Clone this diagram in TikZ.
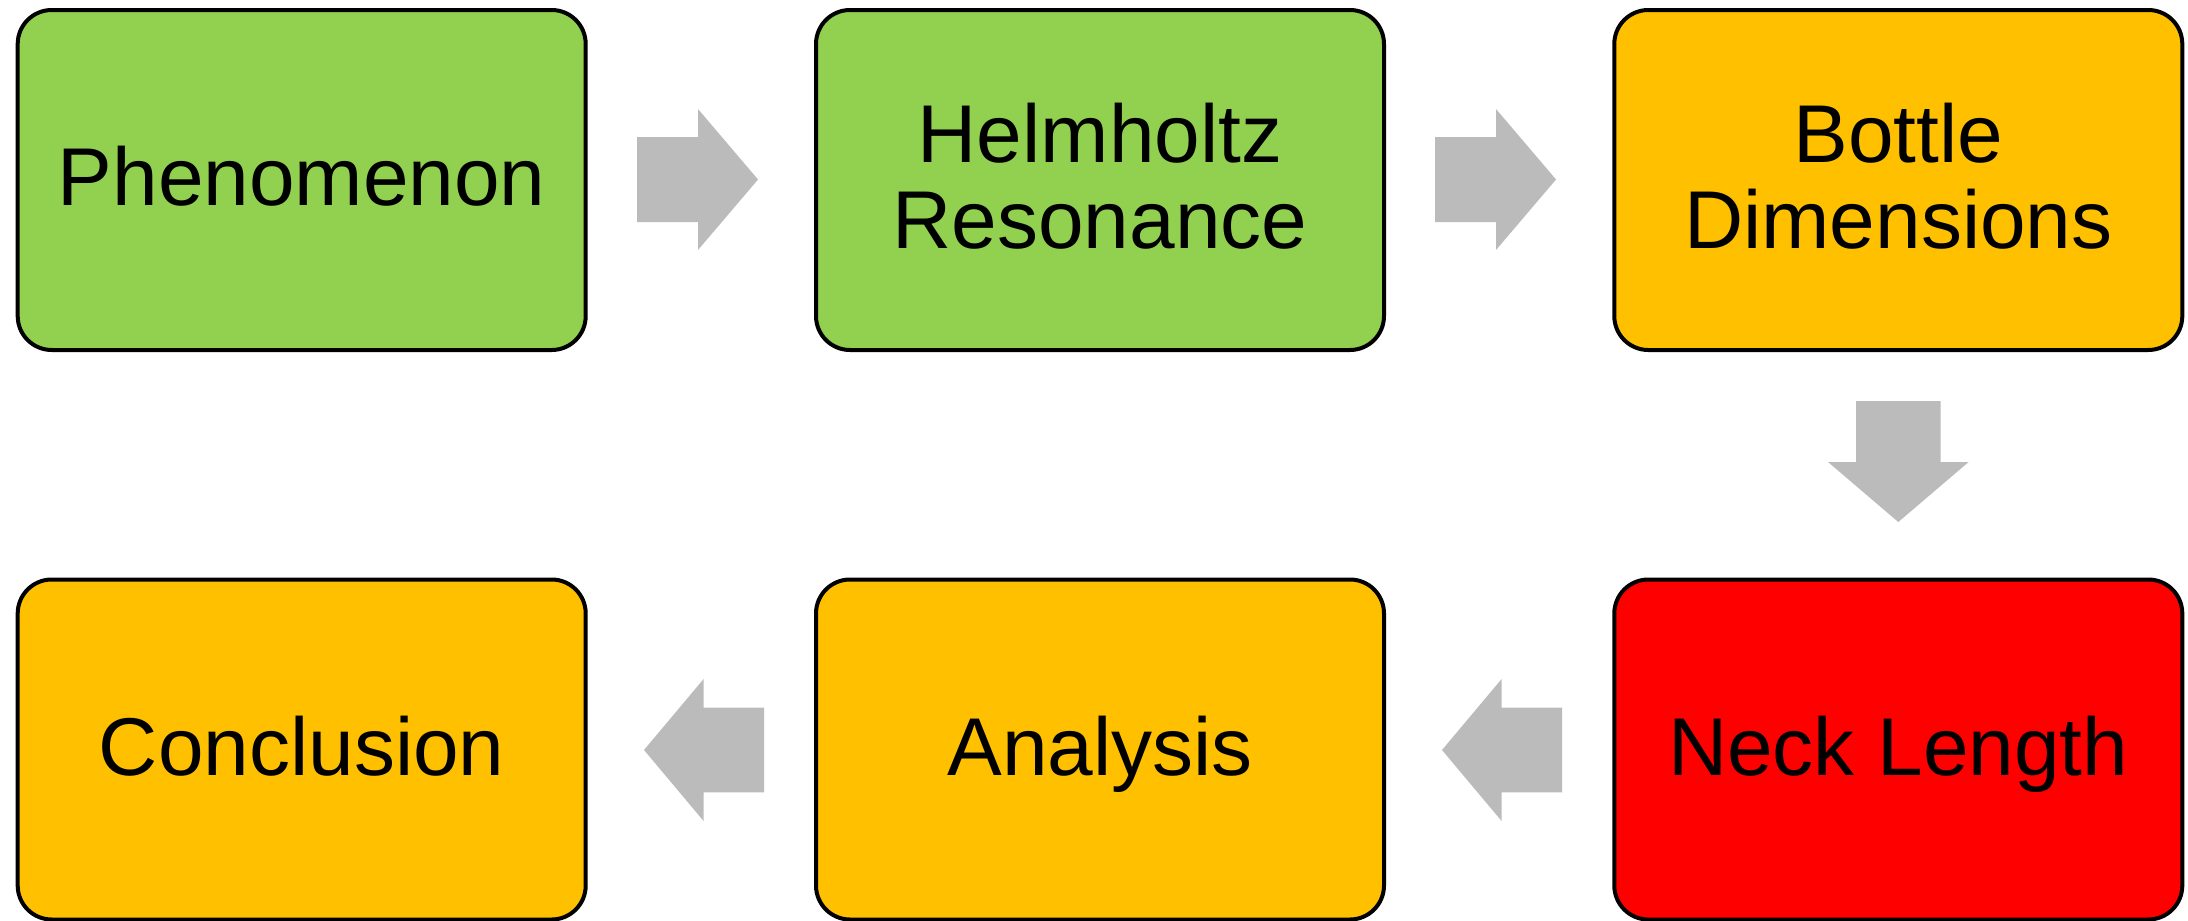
\documentclass[tikz,border=0pt]{standalone}
\usepackage{fontspec}
\setmainfont{Liberation Sans}
\definecolor{cgreen}{HTML}{92D050}
\definecolor{corange}{HTML}{FFC000}
\definecolor{cred}{HTML}{FF0000}
\definecolor{arrowgray}{HTML}{BBBBBB}
\begin{document}
\begin{tikzpicture}[x=1pt,y=-1pt,
  box/.style={draw=black, line width=4pt, rounded corners=34pt,
    minimum width=568pt, minimum height=340pt, inner sep=0pt,
    text depth=8pt,
    align=center, font=\fontsize{82}{85.5}\selectfont},
  blockarrow/.style={fill=arrowgray, draw=none}]
\useasboundingbox (0,0) rectangle (2188,921);
% boxes
\node[box, fill=cgreen]  (phen)   at (301.7,180) {Phenomenon};
\node[box, fill=cgreen]  (helm)   at (1100,180)  {Helmholtz\\Resonance};
\node[box, fill=corange] (bottle) at (1898.3,180) {Bottle\\Dimensions};
\node[box, fill=cred]    (neck)   at (1898.3,749.5) {Neck Length};
\node[box, fill=corange] (anal)   at (1100,749.5)  {Analysis};
\node[box, fill=corange] (concl)  at (301.7,749.5) {Conclusion};
% right arrows (row 1)
\fill[blockarrow, shift={(637,179.5)}] (0,-42.5) -- (61,-42.5) -- (61,-70.5) -- (121,0) -- (61,70.5) -- (61,42.5) -- (0,42.5) -- cycle;
\fill[blockarrow, shift={(1435,179.5)}] (0,-42.5) -- (61,-42.5) -- (61,-70.5) -- (121,0) -- (61,70.5) -- (61,42.5) -- (0,42.5) -- cycle;
% down arrow
\fill[blockarrow, shift={(1898.3,401)}] (-42.3,0) -- (42.3,0) -- (42.3,61) -- (70.3,61) -- (0,121) -- (-70.3,61) -- (-42.3,61) -- cycle;
% left arrows (row 2)
\fill[blockarrow, shift={(644,750)}] (0,0) -- (59.6,-71) -- (59.6,-42.3) -- (120,-42.3) -- (120,42.3) -- (59.6,42.3) -- (59.6,71) -- cycle;
\fill[blockarrow, shift={(1442,750)}] (0,0) -- (59.6,-71) -- (59.6,-42.3) -- (120,-42.3) -- (120,42.3) -- (59.6,42.3) -- (59.6,71) -- cycle;
\end{tikzpicture}
\end{document}
